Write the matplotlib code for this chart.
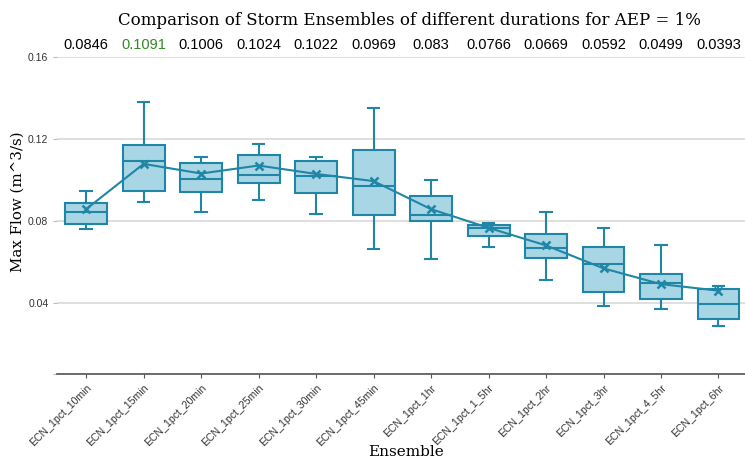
import matplotlib
matplotlib.use("Agg")
import matplotlib.pyplot as plt

# Ensemble names and box statistics (m^3/s)
ensembles = ["ECN_1pct_10min", "ECN_1pct_15min", "ECN_1pct_20min", "ECN_1pct_25min",
             "ECN_1pct_30min", "ECN_1pct_45min", "ECN_1pct_1hr", "ECN_1pct_1_5hr",
             "ECN_1pct_2hr", "ECN_1pct_3hr", "ECN_1pct_4_5hr", "ECN_1pct_6hr"]
whisk_hi = [0.0946, 0.1379, 0.1113, 0.1175, 0.1112, 0.1353, 0.1000, 0.0790, 0.0842, 0.0766, 0.0681, 0.0484]
q3 = [0.0889, 0.1169, 0.1083, 0.1122, 0.1091, 0.1149, 0.0922, 0.0782, 0.0739, 0.0673, 0.0541, 0.0469]
median = [0.0846, 0.1091, 0.1006, 0.1024, 0.1022, 0.0969, 0.0830, 0.0766, 0.0669, 0.0592, 0.0499, 0.0393]
q1 = [0.0788, 0.0948, 0.0940, 0.0987, 0.0938, 0.0830, 0.0798, 0.0728, 0.0622, 0.0452, 0.0421, 0.0323]
whisk_lo = [0.0762, 0.0891, 0.0842, 0.0901, 0.0835, 0.0665, 0.0616, 0.0674, 0.0512, 0.0386, 0.0369, 0.0286]
mean = [0.0858, 0.1079, 0.1032, 0.1071, 0.1030, 0.0995, 0.0858, 0.0767, 0.0681, 0.0569, 0.0492, 0.0460]
median_labels = ["0.0846", "0.1091", "0.1006", "0.1024", "0.1022", "0.0969",
                 "0.083", "0.0766", "0.0669", "0.0592", "0.0499", "0.0393"]

edge = "#1f86a6"
fill = "#a9d6e5"

fig = plt.figure(figsize=(7.45, 4.61), dpi=100)
ax = fig.add_axes([0.077, 0.189, 0.926, 0.687])

stats = []
for i in range(len(ensembles)):
    stats.append(dict(whishi=whisk_hi[i], q3=q3[i], med=median[i], q1=q1[i],
                      whislo=whisk_lo[i], mean=mean[i], fliers=[]))

pos = list(range(len(ensembles)))
ax.bxp(stats, positions=pos, widths=0.73, patch_artist=True, showfliers=False,
       boxprops=dict(facecolor=fill, edgecolor=edge, linewidth=1.5),
       medianprops=dict(color=edge, linewidth=1.5),
       whiskerprops=dict(color=edge, linewidth=1.5),
       capprops=dict(color=edge, linewidth=1.5), capwidths=0.2, zorder=3)

ax.plot(pos, mean, color=edge, linewidth=1.5, marker="x", markersize=6,
        markeredgewidth=1.8, zorder=4)

# median values along the top
for i, lab in enumerate(median_labels):
    c = "#2e8b22" if median[i] == max(median) else "black"
    ax.text(i, 0.1625, lab, ha="center", va="bottom", fontsize=10.5,
            family="Liberation Sans", color=c)

ax.set_xlim(-0.5, len(ensembles) - 0.5)
ax.set_ylim(0.0054, 0.16)
ax.set_yticks([0.0054, 0.04, 0.08, 0.12, 0.16])
ax.set_yticklabels(["", "0.04", "0.08", "0.12", "0.16"])
ax.set_xticks(pos)
ax.set_xticklabels(ensembles, rotation=45, ha="right", rotation_mode="anchor",
                   family="Liberation Sans", fontsize=7.6, color="#333333")
ax.tick_params(axis="y", labelsize=7.5, length=3, color="#bbbbbb", labelcolor="#333333")
ax.tick_params(axis="x", length=3, color="#555555")
for lab in ax.get_yticklabels():
    lab.set_family("Liberation Sans")

ax.grid(axis="y", color="#d9d9d9", linewidth=1.2, zorder=0)
ax.set_axisbelow(True)
for s in ["left", "right", "top"]:
    ax.spines[s].set_visible(False)
ax.spines["bottom"].set_color("#555555")
ax.spines["bottom"].set_linewidth(1.2)

ax.set_ylabel("Max Flow (m^3/s)", family="DejaVu Serif", fontsize=10.8)
ax.yaxis.set_label_coords(-0.047, 0.543)
fig.text(0.545, 0.02, "Ensemble", ha="center", va="center",
         family="DejaVu Serif", fontsize=11)
fig.text(0.55, 0.955, "Comparison of Storm Ensembles of different durations for AEP = 1%",
         ha="center", va="center", family="DejaVu Serif", fontsize=12)

fig.savefig("out.png", dpi=100)
